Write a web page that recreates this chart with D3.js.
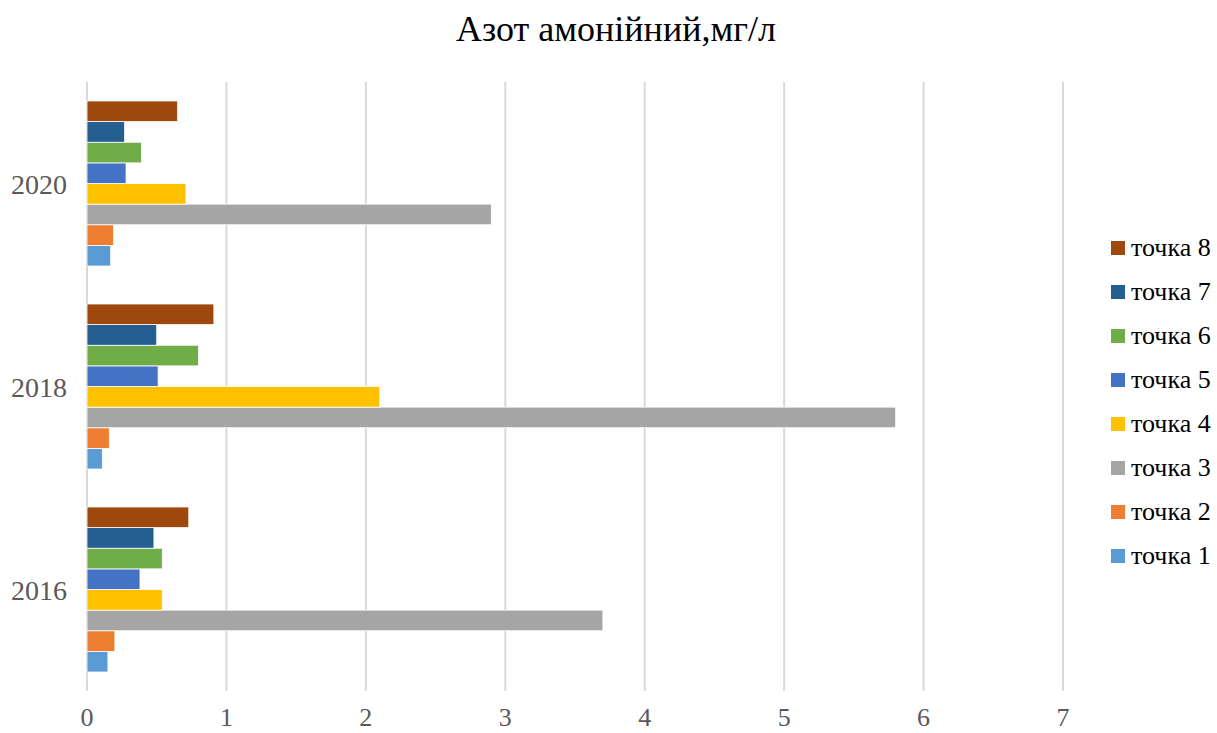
<!DOCTYPE html>
<html>
<head>
<meta charset="utf-8">
<script src="https://cdn.jsdelivr.net/npm/d3@7"></script>
<style>
  body { margin: 0; background: #fff; }
  text { font-family: "Liberation Serif", "DejaVu Serif", serif; }
</style>
</head>
<body>
<div id="chart"></div>
<script>
// years, bottom to top
const years = ["2016", "2018", "2020"];
const series = ["точка 1", "точка 2", "точка 3", "точка 4", "точка 5", "точка 6", "точка 7", "точка 8"];
const colors = ["#5B9BD5", "#ED7D31", "#A5A5A5", "#FFC000", "#4472C4", "#70AD47", "#255E91", "#9E480E"];

// values per point, one entry per year (2016, 2018, 2020)
const tochka1 = [0.15, 0.11, 0.17];
const tochka2 = [0.20, 0.16, 0.19];
const tochka3 = [3.70, 5.80, 2.90];
const tochka4 = [0.54, 2.10, 0.71];
const tochka5 = [0.38, 0.51, 0.28];
const tochka6 = [0.54, 0.80, 0.39];
const tochka7 = [0.48, 0.50, 0.27];
const tochka8 = [0.73, 0.91, 0.65];
const xTicks = [0, 1, 2, 3, 4, 5, 6, 7];

const values = [tochka1, tochka2, tochka3, tochka4, tochka5, tochka6, tochka7, tochka8];

const width = 1217, height = 733;
const margin = {top: 82, right: 154, bottom: 42, left: 87};

const svg = d3.select("#chart").append("svg")
    .attr("width", width)
    .attr("height", height);

// title
svg.append("text")
    .attr("x", 616)
    .attr("y", 41)
    .attr("text-anchor", "middle")
    .attr("font-size", 36)
    .attr("fill", "#000")
    .text("Азот амонійний,мг/л");

const x = d3.scaleLinear()
    .domain([0, 7])
    .range([margin.left, 1063]);

// years stacked from bottom, so reverse for band order top->bottom
const y = d3.scaleBand()
    .domain(years.slice().reverse())
    .range([margin.top, height - margin.bottom])
    .paddingInner(0.187)
    .paddingOuter(0.0935);

// series inside a band: точка 8 on top, точка 1 at bottom
const ySub = d3.scaleBand()
    .domain(series.slice().reverse())
    .range([0, y.bandwidth()]);

// gridlines
svg.append("g")
    .selectAll("line")
    .data(xTicks)
    .join("line")
    .attr("x1", d => x(d))
    .attr("x2", d => x(d))
    .attr("y1", margin.top)
    .attr("y2", height - margin.bottom)
    .attr("stroke", "#d9d9d9")
    .attr("stroke-width", 2);

// x tick labels
svg.append("g")
    .selectAll("text")
    .data(xTicks)
    .join("text")
    .attr("x", d => x(d))
    .attr("y", 726)
    .attr("text-anchor", "middle")
    .attr("font-size", 26)
    .attr("fill", "#595959")
    .text(d => d);

// y labels
svg.append("g")
    .selectAll("text")
    .data(years)
    .join("text")
    .attr("x", 67)
    .attr("y", d => y(d) + y.bandwidth() / 2 + 10)
    .attr("text-anchor", "end")
    .attr("font-size", 28)
    .attr("fill", "#595959")
    .text(d => d);

// bars
const barData = [];
series.forEach((s, i) => {
    years.forEach((yr, j) => {
        barData.push({series: s, year: yr, value: values[i][j], color: colors[i]});
    });
});

svg.append("g")
    .selectAll("rect")
    .data(barData)
    .join("rect")
    .attr("x", x(0))
    .attr("y", d => y(d.year) + ySub(d.series))
    .attr("width", d => x(d.value) - x(0))
    .attr("height", ySub.bandwidth())
    .attr("fill", d => d.color)
    .attr("stroke", "#fff")
    .attr("stroke-width", 0.8);

// legend (точка 8 at top)
const legend = svg.append("g")
    .selectAll("g")
    .data(series.slice().reverse())
    .join("g")
    .attr("transform", (d, i) => `translate(1111, ${248 + i * 44})`);

legend.append("rect")
    .attr("x", 0)
    .attr("y", -7)
    .attr("width", 14)
    .attr("height", 14)
    .attr("fill", d => colors[series.indexOf(d)]);

legend.append("text")
    .attr("x", 20)
    .attr("y", 8)
    .attr("font-size", 26)
    .attr("fill", "#000")
    .text(d => d);
</script>
</body>
</html>
